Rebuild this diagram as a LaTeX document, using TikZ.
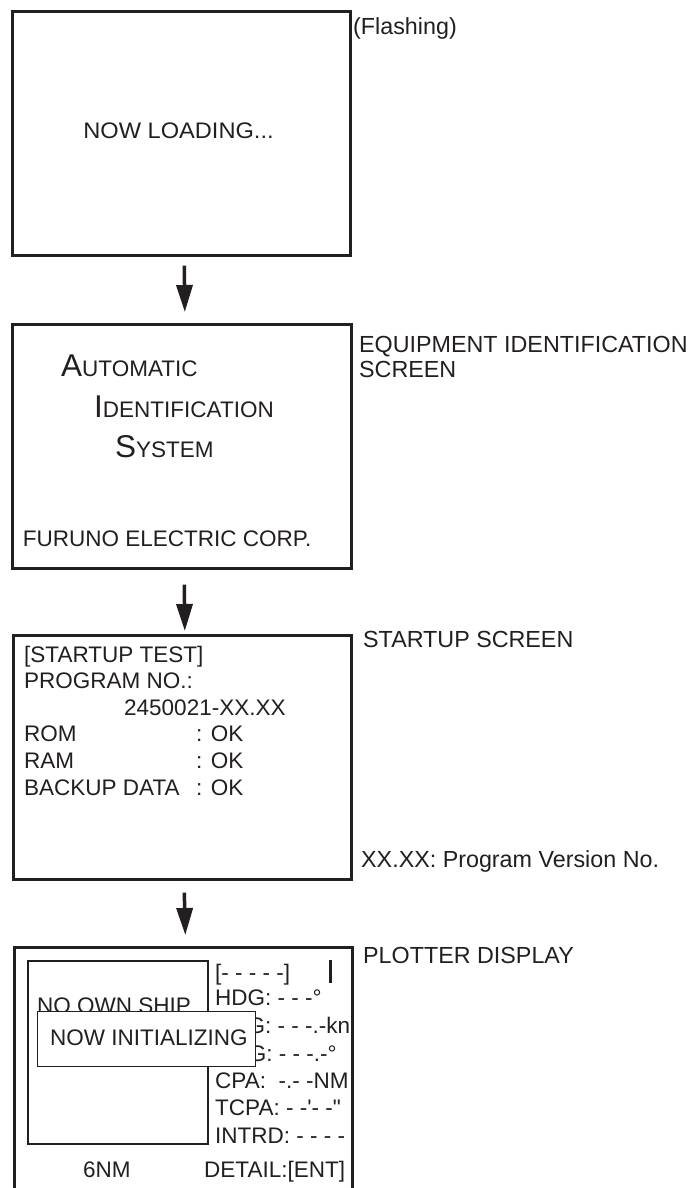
\documentclass[tikz,border=0pt]{standalone}
\usepackage{fontspec}
\setmainfont{Liberation Sans}
\usetikzlibrary{arrows.meta}
\definecolor{ink}{HTML}{231F20}
\tikzset{
  screen/.style={draw=ink, line width=2.6pt, minimum width=338pt, minimum height=244pt, anchor=north west, inner sep=0pt},
  flow/.style={draw=ink, line width=3.5pt, -{Triangle[length=27pt,width=16pt]}},
  st/.style={anchor=base west, inner sep=0pt, text=ink, font=\fontsize{22.5}{26}\selectfont},
  lb/.style={anchor=base west, inner sep=0pt, text=ink, font=\fontsize{23.3}{26}\selectfont},
}
\newcommand{\bigc}[1]{{\fontsize{31.5}{32}\selectfont #1}}
\begin{document}
\begin{tikzpicture}[x=1pt,y=-1pt]
\useasboundingbox[fill=white] (0,0) rectangle (698,1188);
% screens
\node[screen] (s1) at (11,10) {};
\node[screen, minimum width=339pt] (s2) at (11,323) {};
\node[screen] (s3) at (12,634) {};
\node[screen] (s4) at (13,946) {};
% arrows
\draw[flow] ([shift={(3pt,-9pt)}]s1.south) -- ([shift={(3pt,11pt)}]s2.north);
\draw[flow] ([shift={(2.5pt,-15pt)}]s2.south) -- ([shift={(2.5pt,3pt)}]s3.north);
\draw[flow] ([shift={(2pt,-12pt)}]s3.south) -- ([shift={(2pt,11pt)}]s4.north);
% screen 1
\node[st, anchor=base] (t1) at (178.5,139) {\scalebox{1.05}[1]{NOW LOADING...}};
% screen 2
\node[st] (a1) at (61,376) {\bigc{A}UTOMATIC};
\node[st] (a2) at (94,417) {\bigc{I}DENTIFICATION};
\node[st] (a3) at (115,457) {\bigc{S}YSTEM};
\node[st] (a4) at (22.7,546) {FURUNO ELECTRIC CORP.};
% screen 3
\node[st] (b1) at (24,662) {[STARTUP TEST]};
\node[st] (b2) at (24,688.6) {PROGRAM NO.:};
\node[st] (b3) at (124,715.2) {2450021-XX.XX};
\node[st] (b4) at (24,741.8) {ROM};
\node[st] (b5) at (24,768.4) {RAM};
\node[st] (b6) at (24,795) {BACKUP DATA};
\node[st] (b4v) at (196,741.8) {: OK};
\node[st] (b5v) at (196,768.4) {: OK};
\node[st] (b6v) at (196,795) {: OK};
% screen 4
\node[draw=ink, line width=2pt, minimum width=180pt, minimum height=183pt, anchor=north west, inner sep=0pt] (plot) at (27,960) {};
\node[st] (c0) at (37,1013.5) {NO OWN SHIP};
\node[st] (c1) at (215,980) {[- - - - -]};
\node[st] (c2) at (215,1005) {HDG: - - -°};
\node[st] (c3) at (215,1033) {SOG: - - -.-kn};
\node[st] (c4) at (215,1061) {COG: - - -.-°};
\node[st] (c5) at (215,1088) {CPA: \ -.- -NM};
\node[st] (c6) at (215,1115) {TCPA: - -\textquotesingle- -\textquotedbl};
\node[st] (c7) at (215,1143) {INTRD: - - - -};
\draw[ink, line width=3pt] (330,960) -- (330,983);
\node[draw=ink, fill=white, line width=1pt, minimum width=218pt, minimum height=55pt, anchor=north west, inner sep=0pt] (init) at (37,1011) {};
\node[st] (c8) at (50,1045) {NOW INITIALIZING};
\node[st] (c9) at (83,1177) {6NM};
\node[st] (c10) at (204,1177) {DETAIL:[ENT]};
% labels
\node[lb] (l1) at (353,35) {(Flashing)};
\node[lb] (l2) at (359,352) {EQUIPMENT IDENTIFICATION};
\node[lb] (l3) at (359,377) {SCREEN};
\node[lb] (l4) at (363,647) {STARTUP SCREEN};
\node[lb] (l5) at (361,867) {XX.XX: Program Version No.};
\node[lb] (l6) at (363,963) {PLOTTER DISPLAY};
\end{tikzpicture}
\end{document}
